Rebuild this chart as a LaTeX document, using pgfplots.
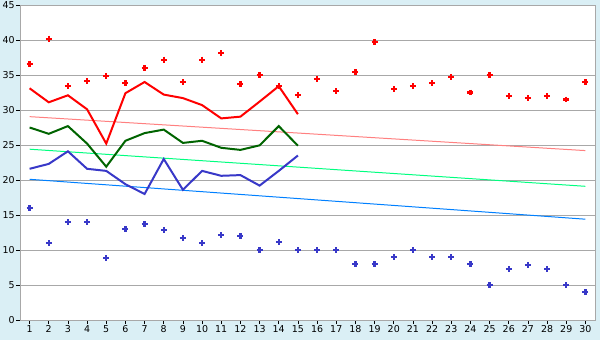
\documentclass[border=0pt]{standalone}
\usepackage{pgfplots}
\pgfplotsset{compat=1.18}
\usepackage{fontspec}
\setmainfont{DejaVu Sans}
\definecolor{bgc}{HTML}{DAEFF5}
\definecolor{gridc}{HTML}{A8A8A8}
\definecolor{redc}{HTML}{FF0000}
\definecolor{greenc}{HTML}{006400}
\definecolor{bluec}{HTML}{3838C8}
\definecolor{tpink}{HTML}{FF8080}
\definecolor{tgreen}{HTML}{00FF80}
\definecolor{tblue}{HTML}{0080FF}
\begin{document}
\begin{tikzpicture}
\fill[bgc] (-20bp,-20bp) rectangle (580bp,320bp);
\useasboundingbox (-20bp,-20bp) rectangle (580bp,320bp);
\begin{axis}[
  at={(0,0)}, anchor=south west,
  scale only axis, width=575bp, height=315bp,
  xmin=0.5, xmax=30.5, ymin=0, ymax=45,
  xtick={1,...,30}, ytick={0,5,...,45},
  ymajorgrids, grid style={gridc, line width=0.8pt},
  axis line style={gridc, line width=0.8pt},
  axis background/.style={fill=white},
  tick style={black, line width=0.6pt},
  major tick length=4bp,
  xtick align=outside, ytick align=outside,
  xtick pos=bottom, ytick pos=left,
  tick label style={font=\fontsize{9.5}{11}\selectfont, inner sep=1.2pt},
  /pgf/number format/assume math mode=true,
  clip=false,
]
% trend lines
\addplot[tpink, line width=1pt] coordinates {(1,29.05) (30,24.2)};
\addplot[tgreen, line width=1pt] coordinates {(1,24.4) (30,19.1)};
\addplot[tblue, line width=1pt] coordinates {(1,20.1) (30,14.4)};
% red markers
\addplot[only marks, mark=+, redc, mark options={line width=2.2pt, mark size=3pt}] coordinates {
(1,36.6) (2,40.2) (3,33.4) (4,34.1) (5,34.8) (6,33.8) (7,35.95) (8,37.2) (9,34.0) (10,37.2)
(11,38.1) (12,33.7) (13,34.95) (14,33.4) (15,32.1) (16,34.4) (17,32.7) (18,35.4) (19,39.7) (20,32.95)
(21,33.4) (22,33.8) (23,34.67) (24,32.5) (25,34.95) (26,31.95) (27,31.67) (28,31.95) (29,31.5) (30,33.95)};
% blue markers
\addplot[only marks, mark=+, bluec, mark options={line width=2.2pt, mark size=3pt}] coordinates {
(1,16) (2,11) (3,14) (4,14) (5,8.8) (6,13) (7,13.7) (8,12.8) (9,11.7) (10,11)
(11,12.1) (12,12) (13,10) (14,11.1) (15,10) (16,10) (17,10) (18,8) (19,8) (20,9)
(21,10) (22,9) (23,9) (24,8) (25,5) (26,7.25) (27,7.8) (28,7.25) (29,5) (30,4)};
% lines
\addplot[redc, line width=2pt] coordinates {
(1,33.1) (2,31.1) (3,32.1) (4,30.1) (5,25.2) (6,32.4) (7,34.0) (8,32.2) (9,31.7) (10,30.7)
(11,28.8) (12,29.05) (13,31.2) (14,33.4) (15,29.4)};
\addplot[greenc, line width=2pt] coordinates {
(1,27.5) (2,26.6) (3,27.7) (4,25.2) (5,21.9) (6,25.6) (7,26.7) (8,27.2) (9,25.3) (10,25.6)
(11,24.6) (12,24.3) (13,24.95) (14,27.7) (15,24.9)};
\addplot[bluec, line width=2pt] coordinates {
(1,21.6) (2,22.3) (3,24.1) (4,21.6) (5,21.3) (6,19.4) (7,18.0) (8,23.0) (9,18.6) (10,21.3)
(11,20.6) (12,20.7) (13,19.2) (14,21.3) (15,23.5)};
\end{axis}
\end{tikzpicture}
\end{document}
